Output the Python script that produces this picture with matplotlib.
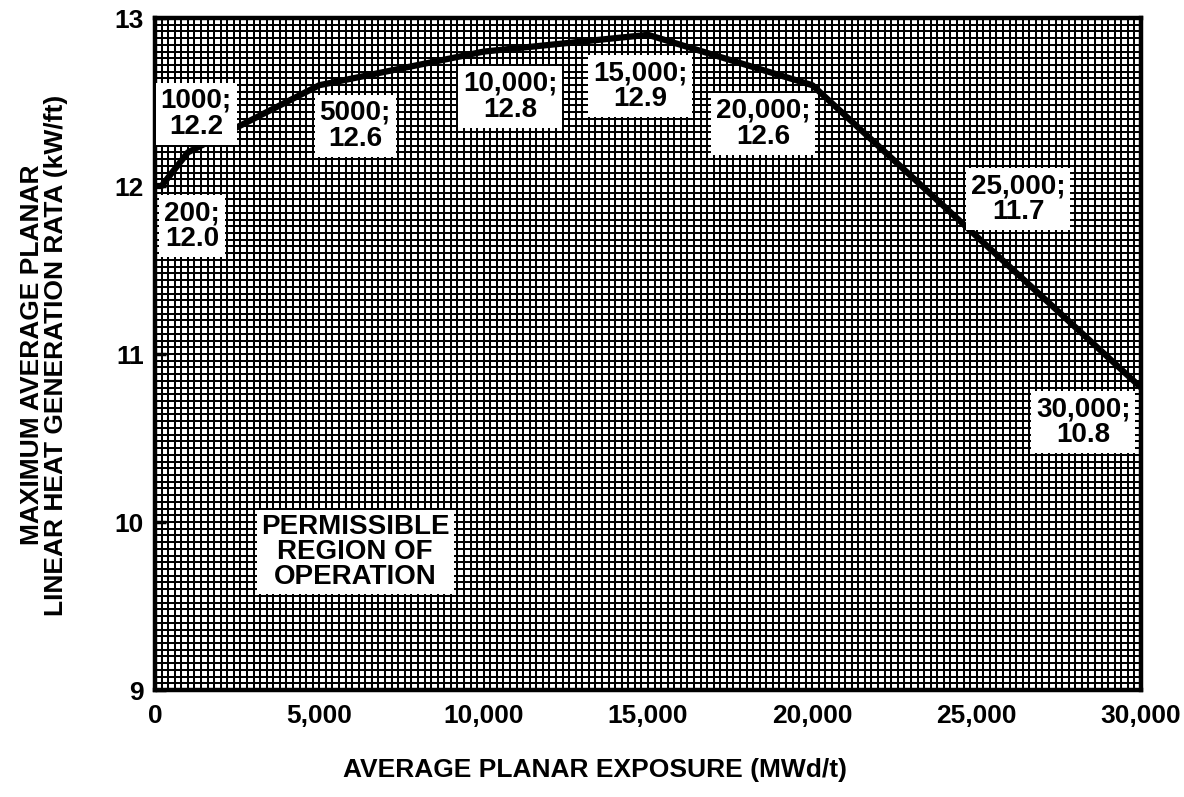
import matplotlib
matplotlib.use("Agg")
import matplotlib.pyplot as plt
from matplotlib.ticker import MultipleLocator, FuncFormatter

# MAPLHGR limit curve: exposure (MWd/t) vs. limit (kW/ft)
exposure = [0, 200, 1000, 5000, 10000, 15000, 20000, 25000, 30000]
limit = [12.0, 12.0, 12.2, 12.6, 12.8, 12.9, 12.6, 11.7, 10.8]

# breakpoints that carry a callout, and where each callout sits
labeled_exposure = [200, 1000, 5000, 10000, 15000, 20000, 25000, 30000]
labeled_limit = [12.0, 12.2, 12.6, 12.8, 12.9, 12.6, 11.7, 10.8]
callout_xy = [(1130, 11.76), (1250, 12.43), (6090, 12.36), (10800, 12.53),
              (14760, 12.595), (18500, 12.37), (26260, 11.92), (28240, 10.595)]

x_ticks = [0, 5000, 10000, 15000, 20000, 25000, 30000]
y_ticks = [9, 10, 11, 12, 13]

plt.rcParams['font.family'] = ['Liberation Sans', 'DejaVu Sans']
plt.rcParams['font.weight'] = 'bold'

fig = plt.figure(figsize=(11.84, 7.97), dpi=100)
ax = fig.add_axes([155 / 1184, 1 - 690 / 797, (1141 - 155) / 1184, (690 - 18) / 797])

ax.set_xlim(0, 30000)
ax.set_ylim(9, 13)

# dense graph-paper grid
ax.xaxis.set_minor_locator(MultipleLocator(200))
ax.yaxis.set_minor_locator(MultipleLocator(0.04))
ax.grid(which='both', color='black', linewidth=1.45)
ax.set_axisbelow(True)

ax.plot(exposure, limit, color='black', linewidth=4.5, solid_capstyle='butt',
        solid_joinstyle='round', zorder=3)


def fmt_exposure(v):
    return f"{v:,}" if v >= 10000 else f"{v}"


for xv, yv, (tx, ty) in zip(labeled_exposure, labeled_limit, callout_xy):
    ax.text(tx, ty, f"{fmt_exposure(xv)};\n{yv:.1f}", ha='center', va='center',
            fontsize=20, fontweight='bold', linespacing=1.0, zorder=4,
            bbox=dict(boxstyle='square,pad=0.18', facecolor='white', edgecolor='none'))

ax.text(6090, 9.82, "PERMISSIBLE\nREGION OF\nOPERATION", ha='center', va='center',
        fontsize=20, fontweight='bold', linespacing=0.95, zorder=4,
        bbox=dict(boxstyle='square,pad=0.15', facecolor='white', edgecolor='none'))

ax.set_xticks(x_ticks)
ax.set_yticks(y_ticks)
ax.xaxis.set_major_formatter(FuncFormatter(lambda v, p: f"{int(v):,}"))
ax.tick_params(which='minor', length=0)
ax.tick_params(axis='x', which='major', length=0, pad=10, labelsize=19)
ax.tick_params(axis='y', which='major', direction='in', length=8, width=2.5,
               pad=8, labelsize=19)
for lab in ax.get_xticklabels() + ax.get_yticklabels():
    lab.set_fontweight('bold')

for s in ax.spines.values():
    s.set_linewidth(3.2)
    s.set_color('black')

fig.text(595 / 1184, 1 - 770 / 797, "AVERAGE PLANAR EXPOSURE (MWd/t)",
         ha='center', va='center', fontsize=19, fontweight='bold')
fig.text(44 / 1184, 1 - 355 / 797,
         "MAXIMUM AVERAGE PLANAR\nLINEAR HEAT GENERATION RATA (kW/ft)",
         ha='center', va='center', rotation=90, fontsize=19, fontweight='bold',
         linespacing=1.0)

fig.savefig("out.png", dpi=100, facecolor='white')
